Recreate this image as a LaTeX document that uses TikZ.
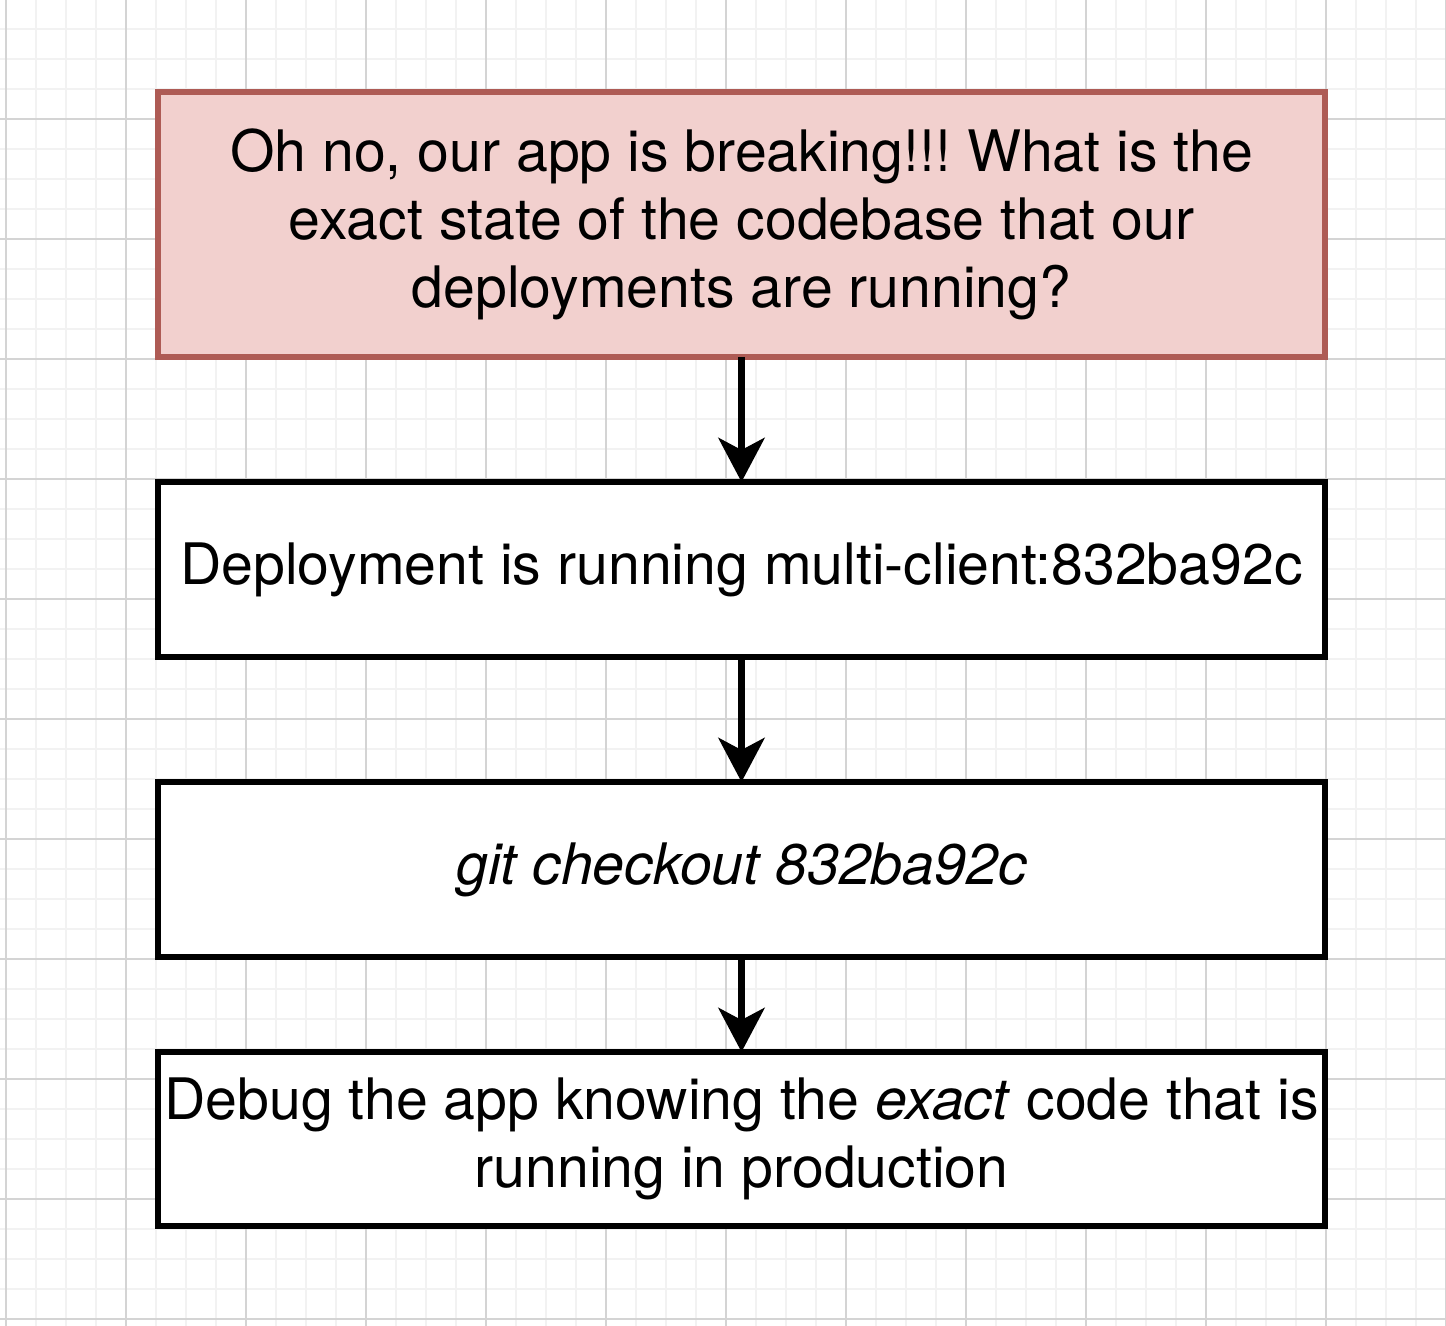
\documentclass[tikz,border=0pt]{standalone}
\usepackage{fontspec}
\setmainfont{TeX Gyre Heros}
\usetikzlibrary{arrows.meta}
\frenchspacing

\definecolor{alertfill}{HTML}{F2D0CE}
\definecolor{alertline}{HTML}{AE5B55}
\definecolor{minorgrid}{HTML}{F2F2F2}
\definecolor{majorgrid}{HTML}{D4D4D4}

\tikzset{
  stepbox/.style={draw=black, fill=white, line width=3pt, minimum width=583.5pt,
    align=center, outer sep=0pt, inner sep=0pt,
    font=\fontsize{28.6pt}{34pt}\selectfont},
  alertbox/.style={stepbox, draw=alertline, fill=alertfill},
  flow/.style={line width=3.6pt, -{Stealth[length=22pt, width=23pt, inset=6pt]}}
}

\begin{document}
\begin{tikzpicture}[x=0.5pt, y=-0.5pt]
\useasboundingbox (0,0) rectangle (1446,1326);

% background grid
\foreach \gx in {6,36,...,1446} \draw[minorgrid, line width=1pt] (\gx,0) -- (\gx,1326);
\foreach \gy in {29,59,...,1326} \draw[minorgrid, line width=1pt] (0,\gy) -- (1446,\gy);
\foreach \gx in {6,126,...,1446} \draw[majorgrid, line width=1pt] (\gx,0) -- (\gx,1326);
\foreach \gy in {119,239,...,1326} \draw[majorgrid, line width=1pt] (0,\gy) -- (1446,\gy);

% boxes
\node[alertbox, minimum height=132.5pt] (question) at (741.5,224.5)
  {Oh no, our app is breaking!!! What is the\\ exact state of the codebase that our\\ deployments are running?};
\node[stepbox, minimum height=87.5pt] (deploy) at (741.5,569.5)
  {Deployment is running multi-client:832ba92c};
\node[stepbox, minimum height=87.5pt] (checkout) at (741.5,869.5)
  {\itshape git checkout 832ba92c};
\node[stepbox, minimum height=87pt] (debug) at (741.5,1139)
  {Debug the app knowing the \textit{exact} code that is\\ running in production};

% arrows
\draw[flow] (question) -- (deploy);
\draw[flow] (deploy) -- (checkout);
\draw[flow] (checkout) -- (debug);
\end{tikzpicture}
\end{document}
